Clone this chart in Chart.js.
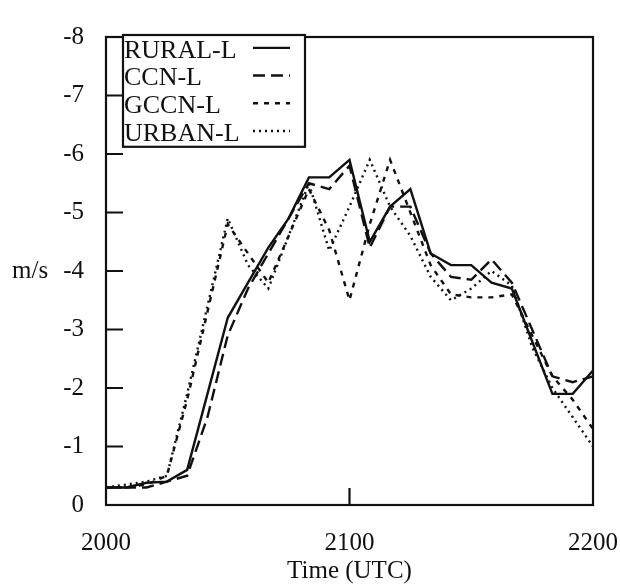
<!DOCTYPE html>
<html>
<head>
<meta charset="utf-8">
<title>Vertical velocity</title>
<script src="https://cdn.jsdelivr.net/npm/chart.js@4.4.1/dist/chart.umd.min.js"></script>
<style>
    html, body { margin: 0; padding: 0; background: #ffffff; }
    #wrap { width: 620px; height: 586px; position: relative; }
</style>
</head>
<body>
<div id="wrap"><canvas id="velocityChart"></canvas></div>
<script>
// Time axis (UTC, every 5 minutes)
const times = ['2000', '2005', '2010', '2015', '2020', '2025', '2030', '2035', '2040', '2045', '2050', '2055',
               '2100', '2105', '2110', '2115', '2120', '2125', '2130', '2135', '2140', '2145', '2150', '2155', '2200'];
const timeTickLabels = ['2000', '2100', '2200'];
const timeMinorTicks = ['2100'];

// Velocity series (m/s)
const ruralL = [-0.3, -0.3, -0.38, -0.4, -0.6, -1.9, -3.2, -3.8, -4.4, -4.9, -5.6, -5.6,
                -5.9, -4.5, -5.1, -5.4, -4.3, -4.1, -4.1, -3.8, -3.7, -2.8, -1.9, -1.9, -2.3];
const ccnL = [-0.3, -0.3, -0.3, -0.4, -0.5, -1.5, -2.9, -3.7, -4.3, -4.9, -5.5, -5.4,
              -5.8, -4.4, -5.1, -5.1, -4.3, -3.9, -3.85, -4.2, -3.8, -3.0, -2.2, -2.1, -2.2];
const gccnL = [-0.3, -0.3, -0.35, -0.5, -1.8, -3.3, -4.8, -4.3, -3.8, -4.6, -5.4, -4.7,
               -3.5, -4.8, -5.9, -5.0, -4.1, -3.6, -3.55, -3.55, -3.6, -2.9, -2.2, -1.8, -1.3];
const urbanL = [-0.3, -0.35, -0.4, -0.5, -1.9, -3.4, -4.9, -4.1, -3.7, -4.6, -5.5, -4.35,
                -5.1, -5.9, -5.1, -4.6, -3.9, -3.5, -3.7, -4.0, -3.75, -2.7, -2.0, -1.5, -1.0];

const seriesNames = ['RURAL-L', 'CCN-L', 'GCCN-L', 'URBAN-L'];
const yTicks = [-8, -7, -6, -5, -4, -3, -2, -1, 0];

const INK = '#111111';
const SERIF = '"Liberation Serif", "DejaVu Serif", serif';
const dashes = [[], [12, 6], [5, 6], [2, 4]];

function makeDataset(label, values, dash) {
    return {
        label: label,
        data: values,
        borderColor: INK,
        borderWidth: 2.4,
        borderDash: dash,
        pointRadius: 0,
        tension: 0,
        fill: false
    };
}

// Frame, inward ticks, legend box and unit label
const framePlugin = {
    id: 'frame',
    afterDraw(chart) {
        const ctx = chart.ctx;
        const area = chart.chartArea;
        const xs = chart.scales.x;
        const ys = chart.scales.y;
        ctx.save();
        ctx.strokeStyle = INK;
        ctx.lineWidth = 2.2;
        ctx.setLineDash([]);
        ctx.strokeRect(area.left, area.top, area.right - area.left, area.bottom - area.top);

        // ticks pointing into the plot
        const tickLen = 17;
        ctx.beginPath();
        yTicks.forEach(v => {
            const y = ys.getPixelForValue(v);
            ctx.moveTo(area.left, y);
            ctx.lineTo(area.left + tickLen, y);
        });
        timeMinorTicks.forEach(t => {
            const x = xs.getPixelForValue(times.indexOf(t));
            ctx.moveTo(x, area.bottom);
            ctx.lineTo(x, area.bottom - tickLen);
        });
        ctx.stroke();

        // unit label
        ctx.fillStyle = INK;
        ctx.font = '25px ' + SERIF;
        ctx.textAlign = 'left';
        ctx.textBaseline = 'middle';
        ctx.fillText('m/s', 12, ys.getPixelForValue(-4));

        // legend: label first, line sample after
        const boxLeft = 123, boxTop = 35, boxRight = 305, rowH = 27.7;
        const boxBottom = boxTop + rowH * seriesNames.length + 1;
        ctx.fillStyle = '#ffffff';
        ctx.fillRect(boxLeft, boxTop, boxRight - boxLeft, boxBottom - boxTop);
        ctx.lineWidth = 2.2;
        ctx.strokeRect(boxLeft, boxTop, boxRight - boxLeft, boxBottom - boxTop);
        ctx.font = '26px ' + SERIF;
        ctx.textBaseline = 'middle';
        chart.data.datasets.forEach((ds, i) => {
            const y = boxTop + rowH * (i + 0.5) + 2;
            ctx.fillStyle = INK;
            ctx.fillText(ds.label, boxLeft + 1, y);
            ctx.beginPath();
            ctx.setLineDash(ds.borderDash);
            ctx.lineWidth = ds.borderWidth;
            ctx.moveTo(253, y - 3);
            ctx.lineTo(290, y - 3);
            ctx.stroke();
        });
        ctx.restore();
    }
};

function initializeChart() {
    const ctx = document.getElementById('velocityChart');
    new Chart(ctx, {
        type: 'line',
        data: {
            labels: times,
            datasets: [
                makeDataset(seriesNames[0], ruralL, dashes[0]),
                makeDataset(seriesNames[1], ccnL, dashes[1]),
                makeDataset(seriesNames[2], gccnL, dashes[2]),
                makeDataset(seriesNames[3], urbanL, dashes[3])
            ]
        },
        options: {
            responsive: true,
            maintainAspectRatio: false,
            animation: false,
            layout: { autoPadding: false, padding: { top: 18, right: 27, left: 0, bottom: 0 } },
            plugins: {
                legend: { display: false },
                tooltip: { enabled: false }
            },
            scales: {
                x: {
                    type: 'category',
                    offset: false,
                    grid: { display: false, drawTicks: false },
                    border: { display: false },
                    ticks: {
                        autoSkip: false,
                        maxRotation: 0,
                        padding: 23,
                        color: INK,
                        font: { family: SERIF, size: 25 },
                        callback: function(value) {
                            const label = times[value];
                            return timeTickLabels.includes(label) ? label : null;
                        }
                    },
                    title: {
                        display: true,
                        text: 'Time (UTC)',
                        color: INK,
                        font: { family: SERIF, size: 25 },
                        padding: { top: 9, bottom: 0 }
                    },
                    afterFit: function(scale) {
                        scale.height = 81;
                        // "2200" may run past the frame, as on the printed axis
                        scale.paddingLeft = 0;
                        scale.paddingRight = 0;
                    }
                },
                y: {
                    type: 'linear',
                    reverse: true,
                    min: -8,
                    max: 0,
                    grid: { display: false, drawTicks: false },
                    border: { display: false },
                    afterBuildTicks: function(scale) {
                        scale.ticks = yTicks.map(v => ({ value: v }));
                    },
                    ticks: {
                        padding: 22,
                        color: INK,
                        font: { family: SERIF, size: 25 }
                    },
                    afterFit: function(scale) { scale.width = 106; }
                }
            }
        },
        plugins: [framePlugin]
    });
}

document.addEventListener('DOMContentLoaded', initializeChart);
</script>
</body>
</html>
